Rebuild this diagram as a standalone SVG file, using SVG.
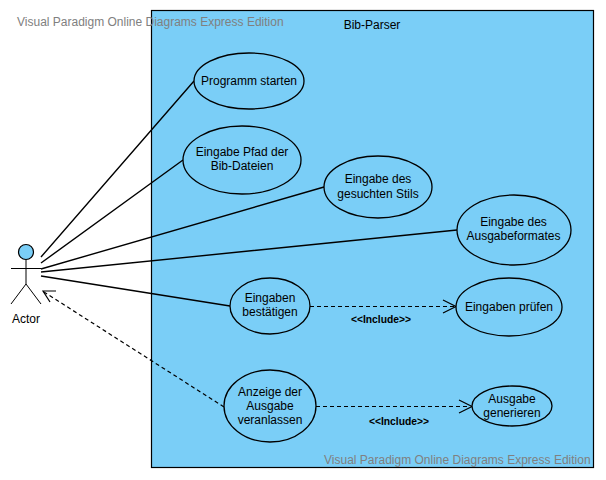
<svg xmlns="http://www.w3.org/2000/svg" width="606" height="480" viewBox="0 0 606 480">
<style>
text{font-family:"Liberation Sans",Arial,sans-serif;font-size:12px;fill:#000;text-anchor:middle}
.uc{fill:#7ACEF7;stroke:#000;stroke-width:1.3}
.c{fill:none;stroke:#000;stroke-width:1.4}
.d{fill:none;stroke:#000;stroke-width:1.2;stroke-dasharray:4 3}
.h{fill:none;stroke:#000;stroke-width:1.2}
.inc{font-size:10.3px;font-weight:bold}
.wm{fill:#808080;text-anchor:start}
</style>
<rect width="606" height="480" fill="#fff"/>
<g id="system"><rect x="151.500" y="10.500" width="442" height="457" fill="#7ACEF7" stroke="#000" stroke-width="1.2"/><text x="372" y="29">Bib-Parser</text></g>
<g id="connectors">
<path class="c" d="M41 257L194 81M41 263L183 160M41 269L324 187M41 272L457 230M41 276L230 306"/>
<path class="d" d="M310 306.500H455M316 406.500H470M224 407L44 292"/>
<path class="h" d="M443 300L456 306.500L443 313M459 400L472 406.500L459 413M56 291L43 291L50 302"/>
</g>
<g id="actor"><circle cx="26" cy="252" r="7.500" fill="#7ACEF7" stroke="#000" stroke-width="1.200"/><path d="M26 260V284M11 268.500H41M11 304L26 284L41 304" fill="none" stroke="#000" stroke-width="1"/><text x="26" y="323">Actor</text></g>
<g id="uc1"><ellipse class="uc" cx="249" cy="81" rx="55" ry="28"/><text x="249" y="85">Programm starten</text></g>
<g id="uc2"><ellipse class="uc" cx="242" cy="160" rx="59" ry="34"/><text x="242" y="156">Eingabe Pfad der</text><text x="242" y="170">Bib-Dateien</text></g>
<g id="uc3"><ellipse class="uc" cx="378" cy="187" rx="54" ry="31"/><text x="378" y="183">Eingabe des</text><text x="378" y="198">gesuchten Stils</text></g>
<g id="uc4"><ellipse class="uc" cx="514" cy="230" rx="57" ry="35"/><text x="513.500" y="226">Eingabe des</text><text x="513.500" y="240">Ausgabeformates</text></g>
<g id="uc5"><ellipse class="uc" cx="270" cy="306" rx="40" ry="28"/><text x="270" y="302">Eingaben</text><text x="270" y="316">bestätigen</text></g>
<g id="uc6"><ellipse class="uc" cx="509" cy="307" rx="53" ry="29"/><text x="509" y="311">Eingaben prüfen</text></g>
<g id="uc7"><ellipse class="uc" cx="270" cy="406" rx="46" ry="36"/><text x="270" y="396">Anzeige der</text><text x="270" y="410">Ausgabe</text><text x="270" y="424">veranlassen</text></g>
<g id="uc8"><ellipse class="uc" cx="512" cy="406" rx="40" ry="20"/><text x="512" y="403">Ausgabe</text><text x="512" y="417">generieren</text></g>
<text class="inc" x="381" y="323">&lt;&lt;Include&gt;&gt;</text>
<text class="inc" x="399" y="425">&lt;&lt;Include&gt;&gt;</text>
<text class="wm" x="17" y="26">Visual Paradigm Online Diagrams Express Edition</text>
<text class="wm" x="324" y="464">Visual Paradigm Online Diagrams Express Edition</text>
</svg>
